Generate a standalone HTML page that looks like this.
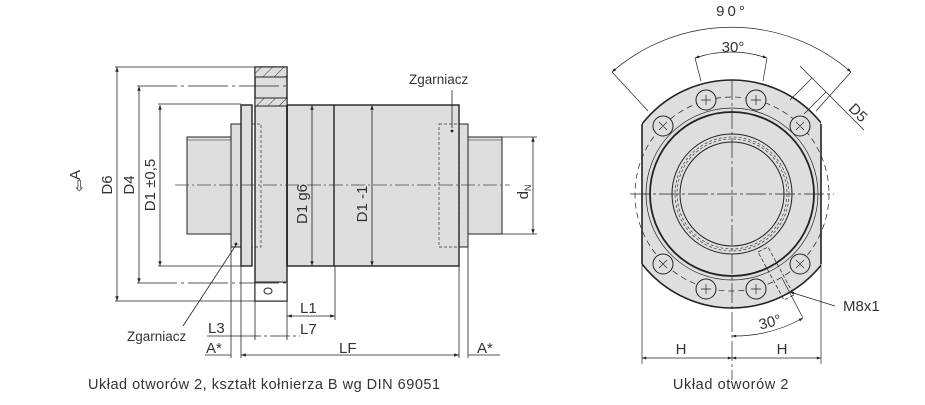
<!DOCTYPE html>
<html><head><meta charset="utf-8"><style>
html,body{margin:0;padding:0;background:#fff;}
svg{display:block;font-family:"Liberation Sans",sans-serif;}
</style></head><body>
<svg width="925" height="405" viewBox="0 0 925 405" xmlns="http://www.w3.org/2000/svg">
<defs>
<marker id="ar" viewBox="0 0 10 10" refX="10" refY="5" markerWidth="8" markerHeight="6" orient="auto-start-reverse"><path d="M0,1.5 L10,5 L0,8.5z" fill="#222"/></marker>
<pattern id="hat" width="8" height="8" patternUnits="userSpaceOnUse" patternTransform="rotate(45)"><rect width="8" height="8" fill="#dedede"/><line x1="0" y1="0" x2="0" y2="8" stroke="#333" stroke-width="1"/></pattern>
<clipPath id="cl"><rect x="642" y="0" width="179" height="405"/></clipPath>
</defs>
<g stroke="#222" fill="#dedede" stroke-width="1">
<rect x="187" y="137" width="44" height="97"/>
<rect x="468" y="137" width="34" height="97"/>
<line x1="187" y1="140" x2="231" y2="140" stroke-width="0.6"/>
<line x1="468" y1="140" x2="502" y2="140" stroke-width="0.6"/>
<rect x="231" y="124" width="10" height="123"/>
<rect x="459" y="124" width="9" height="123"/>
<rect x="287" y="105" width="172" height="161" stroke-width="1.4"/>
<line x1="334" y1="105" x2="334" y2="266" stroke-width="1.4"/>
<rect x="241" y="105" width="11" height="161" stroke-width="1.4"/>
<rect x="255" y="67" width="32" height="234" stroke-width="1.4"/>
<rect x="255" y="67" width="32" height="10" fill="url(#hat)"/>
<rect x="255" y="98" width="32" height="8" fill="url(#hat)"/>
<rect x="255" y="282" width="32" height="19" fill="#fff" stroke-width="1"/>
<ellipse cx="268" cy="291" rx="4" ry="3" fill="none"/>
<line x1="287" y1="105" x2="287" y2="266" stroke-width="1.6"/>
</g>
<g stroke="#333" fill="none" stroke-width="0.7" stroke-dasharray="3,2">
<rect x="252" y="124" width="9" height="123"/>
<rect x="439" y="124" width="20" height="123"/>
</g>
<line x1="175" y1="185" x2="510" y2="185" stroke="#444" stroke-width="0.7" stroke-dasharray="14,3,2,3"/>
<g stroke="#222" stroke-width="0.8" fill="none">
<line x1="115" y1="67" x2="255" y2="67"/><line x1="115" y1="301" x2="255" y2="301"/>
<line x1="137" y1="86" x2="290" y2="86" stroke-dasharray="40,4,3,4"/><line x1="137" y1="283" x2="290" y2="283" stroke-dasharray="40,4,3,4"/>
<line x1="158" y1="104" x2="241" y2="104"/><line x1="158" y1="266" x2="241" y2="266"/>
<line x1="502" y1="137" x2="537" y2="137"/><line x1="502" y1="234" x2="537" y2="234"/>
<line x1="117" y1="67" x2="117" y2="301" marker-start="url(#ar)" marker-end="url(#ar)"/>
<line x1="139" y1="86" x2="139" y2="283" marker-start="url(#ar)" marker-end="url(#ar)"/>
<line x1="160" y1="105" x2="160" y2="266" marker-start="url(#ar)" marker-end="url(#ar)"/>
<line x1="312" y1="105" x2="312" y2="266" marker-start="url(#ar)" marker-end="url(#ar)"/>
<line x1="372" y1="105" x2="372" y2="266" marker-start="url(#ar)" marker-end="url(#ar)"/>
<line x1="533" y1="137" x2="533" y2="234" marker-start="url(#ar)" marker-end="url(#ar)"/>
<line x1="231" y1="247" x2="231" y2="358"/><line x1="241" y1="266" x2="241" y2="358"/>
<line x1="255" y1="301" x2="255" y2="340"/><line x1="287" y1="301" x2="287" y2="340"/>
<line x1="335" y1="266" x2="335" y2="320"/>
<line x1="459" y1="266" x2="459" y2="358"/><line x1="468" y1="247" x2="468" y2="358"/>
<line x1="287" y1="316" x2="335" y2="316" marker-start="url(#ar)" marker-end="url(#ar)"/>
<line x1="207" y1="336" x2="241" y2="336"/><line x1="241" y1="336" x2="300" y2="336" stroke-dasharray="20,3,3,3"/>
<line x1="205" y1="355" x2="231" y2="355"/>
<line x1="241" y1="355" x2="459" y2="355" marker-start="url(#ar)" marker-end="url(#ar)"/>
<line x1="468" y1="355" x2="500" y2="355"/>
<line x1="236" y1="245" x2="183" y2="326"/>
<line x1="452" y1="128" x2="452" y2="90"/>
<circle cx="236" cy="244" r="1" fill="#222"/><circle cx="452" cy="131" r="1" fill="#222"/>
</g>
<g font-size="15" fill="#333">
<text x="409" y="84" font-size="13.5">Zgarniacz</text>
<text x="127" y="341" font-size="13.5">Zgarniacz</text>
<text x="300" y="313">L1</text>
<text x="208" y="333">L3</text>
<text x="300" y="334">L7</text>
<text x="206" y="353">A*</text>
<text x="339" y="353">LF</text>
<text x="477" y="353">A*</text>
<text x="112" y="185" transform="rotate(-90 112 185)" text-anchor="middle">D6</text>
<text x="134" y="185" transform="rotate(-90 134 185)" text-anchor="middle">D4</text>
<text x="155" y="185" transform="rotate(-90 155 185)" text-anchor="middle">D1  ±0,5</text>
<text x="307" y="204" transform="rotate(-90 307 204)" text-anchor="middle">D1  g6</text>
<text x="367" y="204" transform="rotate(-90 367 204)" text-anchor="middle">D1  -1</text>
<text x="528" y="192" transform="rotate(-90 528 192)" text-anchor="middle">d<tspan font-size="9" dy="3">N</tspan></text>
<text x="80" y="175" transform="rotate(-90 80 175)" text-anchor="middle">A</text>
<text x="73" y="191" font-size="15">⇩</text>
</g>
<g stroke="#222" fill="none">
<circle cx="732" cy="194" r="114" fill="#dedede" stroke-width="1.6" clip-path="url(#cl)"/>
<line x1="642" y1="124" x2="642" y2="264" stroke-width="1.6"/>
<line x1="821" y1="124" x2="821" y2="264" stroke-width="1.6"/>
<circle cx="732" cy="194" r="97" stroke-width="0.7" stroke-dasharray="6,4"/>
<circle cx="732" cy="194" r="86" stroke-width="0.7"/>
<circle cx="732" cy="194" r="82" stroke-width="1.8"/>
<circle cx="732" cy="194" r="60" stroke-width="1"/>
<circle cx="732" cy="194" r="57" stroke-width="0.6" stroke-dasharray="3,2"/>
<circle cx="732" cy="194" r="55" stroke-width="0.6" stroke-dasharray="3,2"/>
<circle cx="732" cy="194" r="52" stroke-width="1" fill="#dedede"/>
<line x1="630" y1="194" x2="834" y2="194" stroke-width="0.7" stroke-dasharray="20,3,3,3"/>
<line x1="732" y1="80" x2="732" y2="380" stroke-width="0.7" stroke-dasharray="20,3,3,3"/>
<g stroke-width="1">
<circle cx="706" cy="100" r="10" fill="#dedede"/><circle cx="756" cy="100" r="10" fill="#dedede"/>
<circle cx="663" cy="126" r="10" fill="#dedede"/><circle cx="800" cy="126" r="10" fill="#dedede"/>
<circle cx="663" cy="264" r="10" fill="#dedede"/><circle cx="800" cy="264" r="10" fill="#dedede"/>
<circle cx="706" cy="289" r="10" fill="#dedede"/><circle cx="756" cy="289" r="10" fill="#dedede"/>
</g>
<g stroke-width="0.7">
<path d="M659,122l8,8M667,122l-8,8M796,122l8,8M804,122l-8,8M659,260l8,8M667,260l-8,8M796,260l8,8M804,260l-8,8"/>
<path d="M701,289h10M706,284v10M751,289h10M756,284v10M701,100h10M706,95v10M751,100h10M756,95v10"/>
<path d="M612,72 A 182 182 0 0 1 851,72" marker-start="url(#ar)" marker-end="url(#ar)"/>
<line x1="612" y1="72" x2="648" y2="111"/><line x1="851" y1="72" x2="816" y2="111"/>
<path d="M695,58 A 111 111 0 0 1 767,58" marker-start="url(#ar)" marker-end="url(#ar)"/>
<line x1="695" y1="58" x2="701" y2="81"/><line x1="767" y1="58" x2="763" y2="81"/>
<line x1="800" y1="66" x2="864" y2="130"/>
<line x1="812" y1="78" x2="790" y2="100"/><line x1="826" y1="92" x2="804" y2="114"/>
<path d="M758,252 l10,-5 l26,48 l-10,5z" stroke-dasharray="4,2"/>
<line x1="790" y1="292" x2="835" y2="306" marker-start="url(#ar)"/>
<path d="M732,336 A 140 140 0 0 0 803,318" marker-start="url(#ar)" marker-end="url(#ar)"/>
<line x1="782" y1="278" x2="803" y2="318"/>
<line x1="642" y1="264" x2="642" y2="364"/><line x1="821" y1="264" x2="821" y2="364"/>
<line x1="642" y1="358" x2="732" y2="358" marker-start="url(#ar)" marker-end="url(#ar)"/>
<line x1="732" y1="358" x2="821" y2="358" marker-start="url(#ar)" marker-end="url(#ar)"/>
</g>
</g>
<g font-size="15" fill="#333">
<text x="732" y="16" text-anchor="middle" letter-spacing="3">90°</text>
<text x="733" y="52" text-anchor="middle">30°</text>
<text x="850" y="112" transform="rotate(45 852 108)">D5</text>
<text x="843" y="311">M8x1</text>
<text x="770" y="327" transform="rotate(-15 770 322)" text-anchor="middle">30°</text>
<text x="681" y="354" text-anchor="middle">H</text>
<text x="782" y="354" text-anchor="middle">H</text>
<text x="88" y="389" font-size="14.5" letter-spacing="0.5">Układ otworów 2, kształt  kołnierza B wg DIN 69051</text>
<text x="731" y="389" text-anchor="middle" font-size="14.5" letter-spacing="0.6">Układ otworów 2</text>
</g>
</svg>
</body></html>
